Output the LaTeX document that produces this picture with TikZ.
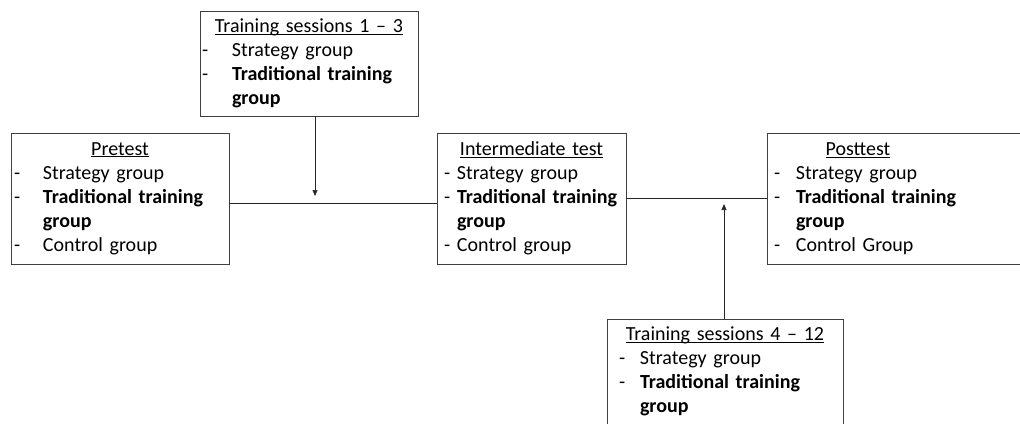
\documentclass[tikz,border=0pt]{standalone}
\usepackage{fontspec}
\setmainfont{Carlito}
\usetikzlibrary{arrows.meta}
\newcommand{\ttl}[2]{\makebox[#1][c]{\underline{\raisebox{0pt}[\height][0pt]{#2}}}}
\newcommand{\grp}[3]{\hspace*{#1}\makebox[#2][l]{-}#3}
\begin{document}
\begin{tikzpicture}[x=1pt, y=-1pt,
  stage/.style={draw=black!75, line width=0.9pt, inner sep=0pt, align=left,
    font=\fontsize{20}{24}\selectfont},
  link/.style={draw=black!85, line width=0.7pt},
  arr/.style={link, -{Triangle[length=6pt,width=5pt]}}]
\useasboundingbox (0,0) rectangle (1020,423);
\node[stage, text width=218pt, minimum height=105pt] (top) at (309,63.5)
  {\ttl{218pt}{Training sessions 1 -- 3}\\
   \grp{2pt}{30pt}{Strategy group}\\
   \grp{2pt}{30pt}{\textbf{Traditional training}}\\
   \hspace*{32pt}\textbf{group}};
\node[stage, text width=218pt, minimum height=131pt] (pre) at (120,198.5)
  {\ttl{218pt}{Pretest}\\
   \grp{3pt}{29pt}{Strategy group}\\
   \grp{3pt}{29pt}{\textbf{Traditional training}}\\
   \hspace*{32pt}\textbf{group}\\
   \grp{3pt}{29pt}{Control group}};
\node[stage, text width=189pt, minimum height=131pt] (inter) at (531.5,198.5)
  {\ttl{189pt}{Intermediate test}\\
   \grp{7pt}{13pt}{Strategy group}\\
   \grp{7pt}{13pt}{\textbf{Traditional training}}\\
   \hspace*{20pt}\textbf{group}\\
   \grp{7pt}{13pt}{Control group}};
\node[stage, text width=263pt, minimum height=131pt] (post) at (898.5,198.5)
  {\ttl{182pt}{Posttest}\\
   \grp{7pt}{22pt}{Strategy group}\\
   \grp{7pt}{22pt}{\textbf{Traditional training}}\\
   \hspace*{29pt}\textbf{group}\\
   \grp{7pt}{22pt}{Control Group}};
\node[stage, text width=236pt, minimum height=105pt] (bot) at (725,371.5)
  {\ttl{236pt}{Training sessions 4 -- 12}\\
   \grp{12pt}{21pt}{Strategy group}\\
   \grp{12pt}{21pt}{\textbf{Traditional training}}\\
   \hspace*{33pt}\textbf{group}};
\coordinate (j1) at (315,196);
\coordinate (j2) at (724,204);
\draw[link] ([yshift=-4.5pt]pre.east) -- ([yshift=-4.5pt]inter.west);
\draw[link] (inter.east) -- (post.west);
\draw[arr] (top.south -| j1) -- (j1);
\draw[arr] (bot.north -| j2) -- (j2);
\end{tikzpicture}
\end{document}
